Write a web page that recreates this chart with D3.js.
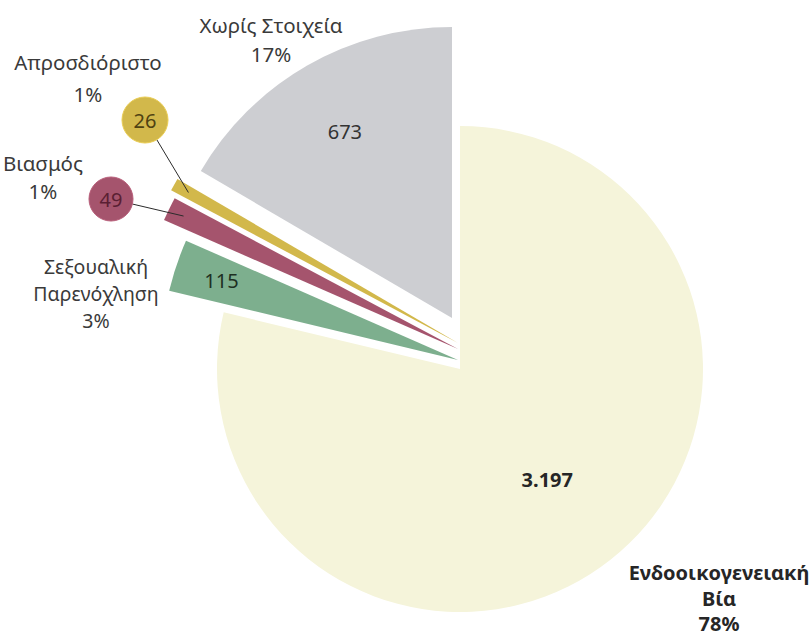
<!DOCTYPE html>
<html>
<head>
<meta charset="utf-8">
<script src="https://cdn.jsdelivr.net/npm/d3@7/dist/d3.min.js"></script>
<style>
  html, body { margin: 0; padding: 0; background: #ffffff; }
  svg { display: block; }
  text { font-family: "Noto Sans", "Open Sans", sans-serif; }
</style>
</head>
<body>
<svg id="chart" width="811" height="637"></svg>
<script>
// ---- data ----
const categories = ["Ενδοοικογενειακή Βία", "Σεξουαλική Παρενόχληση", "Βιασμός", "Απροσδιόριστο", "Χωρίς Στοιχεία"];
const values = [3197, 115, 49, 26, 673];
const percentLabels = ["78%", "3%", "1%", "1%", "17%"];
const labelLines = [
  ["Ενδοοικογενειακή", "Βία"],
  ["Σεξουαλική", "Παρενόχληση"],
  ["Βιασμός"],
  ["Απροσδιόριστο"],
  ["Χωρίς Στοιχεία"]
];

// ---- styles / layout ----
const colors = ["#F5F4DA", "#7DAF8E", "#A5546D", "#D2B84B", "#CDCED2"];
const valueTextColors = ["#262626", "#1d2f22", "#5a1f33", "#4f4212", "#333333"];
const center = { x: 460, y: 369 };
const sliceStyle = [
  { dx: 0,  dy: 0,   r: 243, labelDist: 0.58, mode: "inside", bold: true },
  { dx: -2, dy: -9,  r: 297, labelDist: 0.84, mode: "inside" },
  { dx: -2, dy: -20, r: 321, labelDist: 0.95, mode: "bubble", bx: 111, by: 199, br: 22 },
  { dx: -2, dy: -26, r: 325, labelDist: 0.95, mode: "bubble", bx: 145, by: 120, br: 23 },
  { dx: -8, dy: -51, r: 291, labelDist: 0.74, mode: "inside" }
];
const outerLabels = [
  { x: 719, y: 580, lh: 25.5, bold: true, size: 20 },
  { x: 96,  y: 274, lh: 27, size: 19.5 },
  { x: 43,  y: 171, lh: 28, size: 20.5 },
  { x: 88,  y: 70,  lh: 32, size: 20.5 },
  { x: 271, y: 33,  lh: 29, size: 20.5 }
];
const valueFontSize = 20;

const fmt = d3.formatLocale({ decimal: ",", thousands: ".", grouping: [3], currency: ["€", ""] }).format(",d");

const svg = d3.select("#chart");
const pie = d3.pie().sort(null).value(d => d).startAngle(0).endAngle(2 * Math.PI);
const arcs = pie(values);

const dirOf = a => [Math.sin(a), -Math.cos(a)];

// slices
const g = svg.append("g");
arcs.forEach((a, i) => {
  const s = sliceStyle[i];
  const arc = d3.arc().innerRadius(0).outerRadius(s.r);
  g.append("path")
    .attr("transform", `translate(${center.x + s.dx},${center.y + s.dy})`)
    .attr("d", arc(a))
    .attr("fill", colors[i]);
});

// value labels
arcs.forEach((a, i) => {
  const s = sliceStyle[i];
  const mid = (a.startAngle + a.endAngle) / 2;
  const [ux, uy] = dirOf(mid);
  const vx = center.x + s.dx, vy = center.y + s.dy;
  if (s.mode === "inside") {
    const d = s.r * s.labelDist;
    svg.append("text")
      .attr("x", vx + ux * d)
      .attr("y", vy + uy * d)
      .attr("text-anchor", "middle")
      .attr("dominant-baseline", "central")
      .attr("font-size", valueFontSize)
      .attr("font-weight", s.bold ? "bold" : "normal")
      .attr("fill", valueTextColors[i])
      .text(fmt(values[i]));
  } else {
    const d = s.r * s.labelDist;
    const tx = vx + ux * d, ty = vy + uy * d;
    const ang = Math.atan2(ty - s.by, tx - s.bx);
    svg.append("line")
      .attr("x1", s.bx + Math.cos(ang) * s.br)
      .attr("y1", s.by + Math.sin(ang) * s.br)
      .attr("x2", tx).attr("y2", ty)
      .attr("stroke", "#2b2b2b").attr("stroke-width", 1);
    svg.append("circle")
      .attr("cx", s.bx).attr("cy", s.by).attr("r", s.br)
      .attr("fill", colors[i])
      .attr("stroke", d3.color(colors[i]).brighter(0.3))
      .attr("stroke-width", 1);
    svg.append("text")
      .attr("x", s.bx).attr("y", s.by)
      .attr("text-anchor", "middle")
      .attr("dominant-baseline", "central")
      .attr("font-size", valueFontSize)
      .attr("fill", valueTextColors[i])
      .text(fmt(values[i]));
  }
});

// category + percent labels
outerLabels.forEach((L, i) => {
  const lines = labelLines[i].concat([percentLabels[i]]);
  const t = svg.append("text")
    .attr("text-anchor", "middle")
    .attr("font-size", L.size)
    .attr("font-weight", L.bold ? "bold" : "normal")
    .attr("fill", L.bold ? "#262626" : "#3a3a3a");
  lines.forEach((ln, k) => {
    t.append("tspan").attr("x", L.x).attr("y", L.y + k * L.lh).text(ln);
  });
});
</script>
</body>
</html>
